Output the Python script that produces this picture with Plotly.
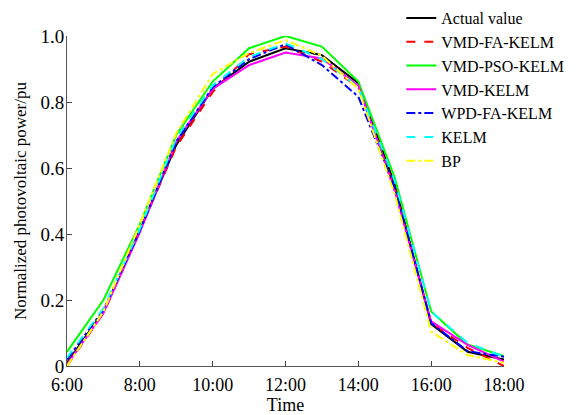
import plotly.graph_objects as go

hours = [6, 7, 8, 9, 10, 11, 12, 13, 14, 15, 16, 17, 18]
hour_labels = ["6:00", "8:00", "10:00", "12:00", "14:00", "16:00", "18:00"]
hour_ticks = [6, 8, 10, 12, 14, 16, 18]

actual = [0.01, 0.165, 0.41, 0.67, 0.84, 0.922, 0.963, 0.942, 0.857, 0.55, 0.127, 0.043, 0.02]
vmd_fa_kelm = [0.0, 0.16, 0.41, 0.665, 0.83, 0.945, 0.968, 0.922, 0.845, 0.54, 0.13, 0.055, 0.0]
vmd_pso_kelm = [0.043, 0.2, 0.43, 0.70, 0.862, 0.963, 1.0, 0.968, 0.862, 0.57, 0.165, 0.065, 0.03]
vmd_kelm = [0.005, 0.16, 0.405, 0.68, 0.84, 0.912, 0.95, 0.932, 0.85, 0.53, 0.135, 0.064, 0.013]
wpd_fa_kelm = [0.02, 0.17, 0.41, 0.68, 0.845, 0.93, 0.975, 0.912, 0.816, 0.54, 0.13, 0.045, 0.028]
kelm = [0.025, 0.175, 0.415, 0.69, 0.85, 0.937, 0.978, 0.93, 0.845, 0.56, 0.165, 0.07, 0.028]
bp = [0.0, 0.165, 0.43, 0.705, 0.885, 0.948, 0.988, 0.94, 0.84, 0.52, 0.104, 0.033, 0.01]

y_ticks = [0, 0.2, 0.4, 0.6, 0.8, 1.0]
y_labels = ["0", "0.2", "0.4", "0.6", "0.8", "1.0"]

series = [
    ("Actual value", actual, "black", "solid"),
    ("VMD-FA-KELM", vmd_fa_kelm, "#FF0000", "dash"),
    ("VMD-PSO-KELM", vmd_pso_kelm, "#00FF00", "solid"),
    ("VMD-KELM", vmd_kelm, "#FF00FF", "solid"),
    ("WPD-FA-KELM", wpd_fa_kelm, "#0000FF", "dashdot"),
    ("KELM", kelm, "#00FFFF", "dash"),
    ("BP", bp, "#FFFF00", "dashdot"),
]

SERIF = "Liberation Serif"

fig = go.Figure()
for name, vals, col, dash in series:
    fig.add_trace(go.Scatter(x=hours, y=vals, mode="lines", name=name,
                             line=dict(color=col, width=2, dash=dash)))

# plot area spans 1..366 px; the y axis uses only the lower part so that the
# legend can sit above the axes without pushing the margins
fig.update_layout(width=576, height=415,
                  margin=dict(l=67, r=72, t=1, b=49),
                  plot_bgcolor="white", paper_bgcolor="white",
                  font=dict(family=SERIF, size=16, color="black"),
                  legend=dict(x=0.765, xanchor="left", y=1.0, yanchor="top",
                              bgcolor="rgba(0,0,0,0)",
                              font=dict(family=SERIF, size=16, color="black"),
                              tracegroupgap=0))
fig.update_xaxes(range=[6, 18], tickvals=hour_ticks, ticktext=hour_labels,
                 ticks="inside", ticklen=5, showline=True, linecolor="#555555",
                 linewidth=1, showgrid=False, zeroline=False, automargin=False,
                 ticklabelstandoff=2,
                 tickfont=dict(family=SERIF, size=18, color="black"),
                 title=dict(text="Time", standoff=0,
                            font=dict(family=SERIF, size=18, color="black")))
fig.update_yaxes(range=[0, 1], domain=[0, 330 / 365], tickvals=y_ticks, ticktext=y_labels,
                 ticks="inside", ticklen=5, showline=True, linecolor="#555555",
                 linewidth=1, showgrid=False, zeroline=False, automargin=False,
                 ticklabelstandoff=-2,
                 tickfont=dict(family=SERIF, size=19, color="black"),
                 title=dict(text="Normalized photovoltaic power/pu", standoff=9,
                            font=dict(family=SERIF, size=17, color="black")))

fig.write_html("out.html", config={"displayModeBar": False},
               post_script="document.body.style.margin='0px';")
